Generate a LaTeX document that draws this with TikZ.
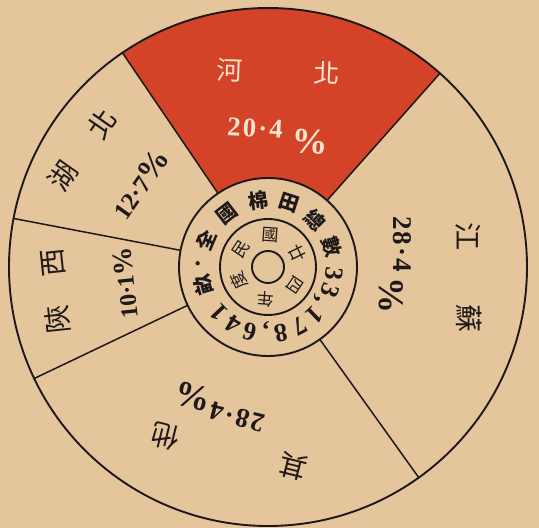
\documentclass[tikz,border=0pt]{standalone}
\usepackage{fontspec}
\newfontfamily\cjk{Noto Sans CJK TC}
\newfontfamily\numf{Liberation Serif}
\usetikzlibrary{calc}
\definecolor{paper}{RGB}{229,198,156}
\definecolor{redfill}{RGB}{212,66,40}
\definecolor{ink}{RGB}{30,24,24}
\definecolor{cream}{RGB}{246,228,205}
\newcommand{\bigpct}{{\fontsize{32}{32}\selectfont\%}}
\begin{document}
\begin{tikzpicture}[x=1pt,y=1pt,
  ringline/.style={draw=ink,line width=1.9pt},
  divline/.style={draw=ink,line width=1.5pt},
  namelbl/.style={font=\cjk\fontsize{28}{28}\selectfont, inner sep=0pt, text=ink},
  pctlbl/.style={font=\numf\bfseries\fontsize{27}{27}\selectfont, inner sep=0pt, text=ink},
  pctsign/.style={font=\numf\bfseries\fontsize{36}{36}\selectfont, inner sep=0pt, text=ink},
  ringchar/.style={font=\cjk\bfseries\fontsize{20}{20}\selectfont, inner sep=0pt, text=ink},
  ringdigit/.style={font=\numf\bfseries\fontsize{26}{26}\selectfont, inner sep=0pt, text=ink},
  innerchar/.style={font=\cjk\fontsize{17}{17}\selectfont, inner sep=0pt, text=ink}]
\fill[paper] (0,0) rectangle (539,528);
\path[use as bounding box] (0,0) rectangle (539,528);
\coordinate (C) at (268,261);
% red sector
\fill[redfill] ($(C)+(48.4:259)$) arc[start angle=48.4, end angle=124.2, radius=259]
  -- ($(C)+(124.2:89)$) arc[start angle=124.2, end angle=48.4, radius=89] -- cycle;
% circles
\draw[ringline] (C) circle[radius=259];
\draw[ringline] (C) circle[radius=89];
\draw[ringline] (C) circle[radius=48];
\draw[ringline] (C) circle[radius=16];
% dividing lines
\foreach \a in {48.4,124.2,169.2,205.5,305.6}
  \draw[divline] ($(C)+(\a:89)$) -- ($(C)+(\a:259)$);
% Hebei (red)
\node[namelbl, text=cream, font=\cjk\fontsize{26}{26}\selectfont, rotate=-2] (hb1) at (230,458) {河};
\node[namelbl, text=cream, font=\cjk\fontsize{26}{26}\selectfont, rotate=-2] (hb2) at (327,455) {北};
\node[pctlbl, text=cream, rotate=-3] (hbp) at (255,400) {2\kern2pt0\kern2pt·\kern2pt4};
\node[pctsign, text=cream, rotate=-3] (hbs) at (310,386) {\%};
% Hubei
\node[namelbl, rotate=55] (hu1) at (62.7,351.7) {湖};
\node[namelbl, rotate=55] (hu2) at (101.7,404.3) {北};
\node[pctlbl, font=\numf\bfseries\fontsize{25}{25}\selectfont, rotate=55] (hup) at (140,344) {12·7\bigpct};
% Shaanxi
\node[namelbl, rotate=96] (sx1) at (58,208) {陝};
\node[namelbl, rotate=96] (sx2) at (53,265) {西};
\node[pctlbl, font=\numf\bfseries\fontsize{24}{24}\selectfont, rotate=96] (sxp) at (125,245) {10·1{\fontsize{28}{28}\selectfont\%}};
% Others
\node[namelbl, rotate=166] (qt1) at (293.3,61.7) {其};
\node[namelbl, rotate=166] (qt2) at (165,91.7) {他};
\node[pctlbl, rotate=166] (qtp) at (237,111) {2\kern2pt8\kern2pt·\kern2pt4};
\node[pctsign, rotate=166] (qts) at (193,131) {\%};
% Jiangsu
\node[namelbl, rotate=-90] (js1) at (468,291) {江};
\node[namelbl, rotate=-90] (js2) at (469.5,209.4) {蘇};
\node[pctlbl, rotate=-90] (jsp) at (402,284) {2\kern2pt8\kern2pt·\kern2pt4};
\node[pctsign, rotate=-90] (jss) at (391,232) {\%};
% outer ring text
\foreach \ch/\ang [count=\i] in {全/157,國/128,棉/98,田/72,總/45,數/18,畝/-164}
  \node[ringchar, rotate=\ang-90] (oc\i) at ($(C)+(\ang:67)$) {\ch};
\foreach \ch/\ang [count=\i] in {3/-6,3/-21,1/-46,7/-62,8/-79,6/-106,4/-121,1/-137}
  \node[ringdigit, rotate=\ang-90] (od\i) at ($(C)+(\ang:67)$) {\ch};
\node[ringdigit, rotate=-123] (cm1) at ($(C)+(-33:58)$) {,};
\node[ringdigit, rotate=-182] (cm2) at ($(C)+(-92:58)$) {,};
\node[ringdigit, rotate=87] (dot) at ($(C)+(177:67)$) {·};
% inner ring text
\foreach \ch/\ang [count=\i] in {民/146,國/86,廿/26,四/-34,年/-94,度/-154}
  \node[innerchar, rotate=\ang-90] (ic\i) at ($(C)+(\ang:32)$) {\ch};
\end{tikzpicture}
\end{document}
